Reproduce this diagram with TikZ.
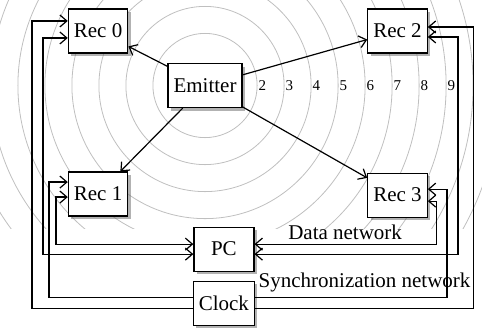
\documentclass[tikz,border=0pt]{standalone}
\usepackage{fontspec}
\setmainfont{Liberation Serif}
\usetikzlibrary{arrows.meta,shadows}
\begin{document}
\begin{tikzpicture}[x=13.5pt,y=13.5pt,>={Straight Barb[length=3.5pt,width=6pt]},
    line width=0.6pt,font=\fontsize{10.5}{12}\selectfont]
    \tikzstyle{unit}=[rectangle,draw,fill=white,minimum height=22pt,inner sep=2.75pt,
      drop shadow={shadow xshift=1.5pt,shadow yshift=-1.5pt,fill=black!60}]
    \tikzstyle{wave}=[draw=black!25,line width=0.4pt]
    \tikzstyle{rangelabel}=[anchor=west,inner sep=0.5pt,font=\fontsize{7.5}{9}\selectfont]

    \useasboundingbox (-7.593,3.167) rectangle (10.259,-9.241);

    % wave fronts around the emitter
    \begin{scope}
    \clip (-7.593,3.167) rectangle (10.259,-5.28);
    \foreach \r in {2,...,14}
    \draw[wave] (0,0) circle ({\r-0.07});
    \end{scope}
    \foreach \r in {2,...,9}
    \node[rangelabel] (D-\r) at ({\r-0.07},0) {\r};

    % emitter and receivers
    \node[unit] (E) at (0,0) {Emitter};
    \node[unit] (R-0) at (-3.96,2.02) {Rec 0};
    \node[unit] (R-1) at (-3.96,-4.02) {Rec 1};
    \node[unit] (R-2) at (7.13,2.02) {Rec 2};
    \node[unit] (R-3) at (7.13,-4.06) {Rec 3};

    % PC and clock
    \node[unit,minimum width=30pt] (PC) at (0.7,-6.06) {PC};
    \node[unit,minimum width=30pt] (C) at (0.7,-8.07) {Clock};

    % Emitter sends to every receiver
    \foreach \dst in {0,...,3}
    \path[->] (E) edge (R-\dst);

    % vertical runs of the two networks
    \coordinate (L-0) at (-6.41,-5);
    \coordinate (L-1) at (-6.0,-5);
    \coordinate (L-2) at (-5.78,-5);
    \coordinate (L-3) at (-5.52,-5);
    \coordinate (M-0) at (9.93,-5);
    \coordinate (M-1) at (9.37,-5);
    \coordinate (M-2) at (8.96,-5);
    \coordinate (M-3) at (8.56,-5);

    % synchronization network
    \draw[->] ([yshift=-2.75pt]C.west) -| (L-0) |- ([yshift=5pt]R-0.west);
    \draw[->] ([yshift=2.75pt]C.west) -| (L-2) |- ([yshift=6pt]R-1.west);
    \draw[->] ([yshift=-2.75pt]C.east) -| (M-0) |- ([yshift=2pt]R-2.east);
    \draw[->] ([yshift=2.75pt]C.east) -| (M-2) |- ([yshift=3pt]R-3.east);

    % data network
    \draw[<->] ([yshift=-2.5pt]PC.west) -| (L-1) |- ([yshift=-3.5pt]R-0.west);
    \draw[<->] ([yshift=2.5pt]PC.west) -| (L-3) |- ([yshift=-1.5pt]R-1.west);
    \draw[<->] ([yshift=-2.5pt]PC.east) -| (M-1) |- ([yshift=-3pt]R-2.east);
    \draw[<->] ([yshift=2.5pt]PC.east) -| (M-3) |- ([yshift=-3pt]R-3.east);

    \node (data) at (5.19,-5.43) {Data network};
    \node (sync) at (5.91,-7.31) {Synchronization network};
  \end{tikzpicture}
\end{document}
